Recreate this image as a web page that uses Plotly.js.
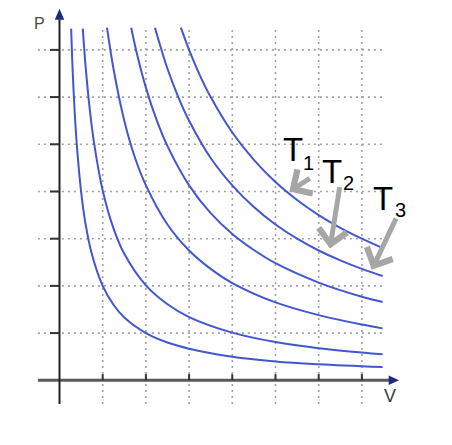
<!DOCTYPE html>
<html>
<head>
<meta charset="utf-8">
<script src="https://cdn.plot.ly/plotly-3.0.1.min.js"></script>
<style>
html,body{margin:0;padding:0;background:#fff;}
#chart{width:452px;height:445px;}
</style>
</head>
<body>
<div id="chart"></div>
<script>
// Isotherm curves: volume V and pressure P
const curve1V = [0.27, 0.30, 0.35, 0.40, 0.50, 0.60, 0.75, 1.00, 1.25, 1.50, 2.00, 2.50, 3.00, 4.00, 5.00, 6.00, 7.48];
const curve1P = [7.45, 6.67, 5.71, 5.00, 4.00, 3.33, 2.67, 2.00, 1.60, 1.33, 1.00, 0.80, 0.67, 0.50, 0.40, 0.34, 0.28];
const curve2V = [0.54, 0.60, 0.70, 0.80, 1.00, 1.25, 1.50, 2.00, 2.50, 3.00, 4.00, 5.00, 6.00, 7.48];
const curve2P = [7.45, 6.70, 5.75, 5.03, 4.02, 3.22, 2.68, 2.01, 1.61, 1.34, 1.01, 0.81, 0.68, 0.55];
const curve3V = [1.10, 1.25, 1.50, 1.75, 2.00, 2.50, 3.00, 3.50, 4.00, 5.00, 6.00, 7.00, 7.48];
const curve3P = [7.47, 6.60, 5.50, 4.71, 4.13, 3.30, 2.75, 2.36, 2.06, 1.65, 1.38, 1.18, 1.10];
const curve4V = [1.66, 1.80, 2.00, 2.25, 2.50, 3.00, 3.50, 4.00, 4.50, 5.00, 6.00, 7.00, 7.48];
const curve4P = [7.47, 6.89, 6.20, 5.51, 4.96, 4.13, 3.54, 3.10, 2.76, 2.48, 2.07, 1.77, 1.66];
const curve5V = [2.21, 2.50, 2.75, 3.00, 3.50, 4.00, 4.50, 5.00, 5.50, 6.00, 6.50, 7.00, 7.48];
const curve5P = [7.47, 6.60, 6.00, 5.50, 4.71, 4.13, 3.67, 3.30, 3.00, 2.75, 2.54, 2.36, 2.21];
const curve6V = [2.81, 3.00, 3.25, 3.50, 4.00, 4.50, 5.00, 5.50, 6.00, 6.50, 7.00, 7.46];
const curve6P = [7.47, 7.00, 6.46, 6.00, 5.25, 4.67, 4.20, 3.82, 3.50, 3.23, 3.00, 2.81];

const curvesV = [curve1V, curve2V, curve3V, curve4V, curve5V, curve6V];
const curvesP = [curve1P, curve2P, curve3P, curve4P, curve5P, curve6P];

// Grid / tick positions
const gridV = [1, 2, 3, 4, 5, 6, 7];
const gridP = [1, 2, 3, 4, 5, 6, 7];

// Temperature labels and the points their arrows aim at
const tempLabels = ['1', '2', '3'];
const tempTipV = [5.32, 6.26, 7.23];
const tempTipP = [4.00, 2.79, 2.34];

const curveColor = '#4257cf';
const traces = curvesV.map((v, i) => ({
  x: v, y: curvesP[i], type: 'scatter', mode: 'lines',
  line: {color: curveColor, width: 2, shape: 'spline', smoothing: 1},
  hoverinfo: 'skip'
}));

const shapes = [];
const gridStyle = {color: '#a0a0a0', width: 1.6, dash: '2px,4px'};
gridV.forEach(v => shapes.push({type: 'line', xref: 'x', yref: 'y', x0: v, x1: v, y0: -0.5, y1: 7.5, line: gridStyle, layer: 'below'}));
gridP.forEach(p => shapes.push({type: 'line', xref: 'x', yref: 'y', x0: -0.5, x1: 7.5, y0: p, y1: p, line: gridStyle, layer: 'below'}));
// axes
shapes.push({type: 'line', xref: 'x', yref: 'y', x0: -0.5, x1: 7.65, y0: 0, y1: 0, line: {color: '#5a5a5a', width: 3}});
shapes.push({type: 'line', xref: 'x', yref: 'y', x0: 0, x1: 0, y0: -0.5, y1: 7.65, line: {color: '#222', width: 2}});
// ticks
gridP.forEach(p => shapes.push({type: 'line', xref: 'x', yref: 'y', x0: -0.22, x1: 0, y0: p, y1: p, line: {color: '#333', width: 2}}));
gridV.forEach(v => shapes.push({type: 'line', xref: 'x', yref: 'y', x0: v, x1: v, y0: 0, y1: 0.13, line: {color: '#333', width: 2}}));
// arrowheads
shapes.push({type: 'path', xref: 'x', yref: 'y', path: 'M7.86,0 L7.62,0.1 L7.62,-0.1 Z', fillcolor: '#1b2a7a', line: {width: 0}});
shapes.push({type: 'path', xref: 'x', yref: 'y', path: 'M0,7.87 L-0.11,7.64 L0.11,7.64 Z', fillcolor: '#1b2a7a', line: {width: 0}});

const annotations = [
  {x: -0.46, y: 7.55, xref: 'x', yref: 'y', text: 'P', showarrow: false, font: {family: 'Liberation Sans, Arial', size: 16, color: '#4a4a4a'}},
  {x: 7.64, y: -0.34, xref: 'x', yref: 'y', text: 'V', showarrow: false, font: {family: 'Liberation Sans, Arial', size: 18, color: '#3a3a3a'}}
];
const arrowOffsets = [[22, -14], [10, -63], [25, -53]];
const labelPos = [[5.40, 4.89, 5.76, 4.60], [6.31, 4.43, 6.70, 4.17], [7.49, 3.86, 7.90, 3.60]];
tempLabels.forEach((t, i) => {
  annotations.push({x: tempTipV[i], y: tempTipP[i], xref: 'x', yref: 'y', ax: arrowOffsets[i][0], ay: arrowOffsets[i][1],
    text: '', showarrow: true, arrowhead: 4, arrowsize: 1.1, arrowwidth: 5, arrowcolor: '#a6a6a6', standoff: 0});
  annotations.push({x: labelPos[i][0], y: labelPos[i][1], xref: 'x', yref: 'y', text: 'T', showarrow: false,
    font: {family: 'Liberation Sans, Arial', size: 33, color: '#000'}});
  annotations.push({x: labelPos[i][2], y: labelPos[i][3], xref: 'x', yref: 'y', text: t, showarrow: false,
    font: {family: 'Liberation Sans, Arial', size: 20, color: '#000'}});
});

const layout = {
  width: 452, height: 445,
  margin: {l: 0, r: 0, t: 0, b: 0},
  paper_bgcolor: '#fff', plot_bgcolor: '#fff',
  showlegend: false,
  xaxis: {range: [-1.377, 9.086], visible: false, fixedrange: true},
  yaxis: {range: [-1.371, 8.057], visible: false, fixedrange: true},
  shapes: shapes,
  annotations: annotations
};
Plotly.newPlot('chart', traces, layout, {staticPlot: true});
</script>
</body>
</html>
